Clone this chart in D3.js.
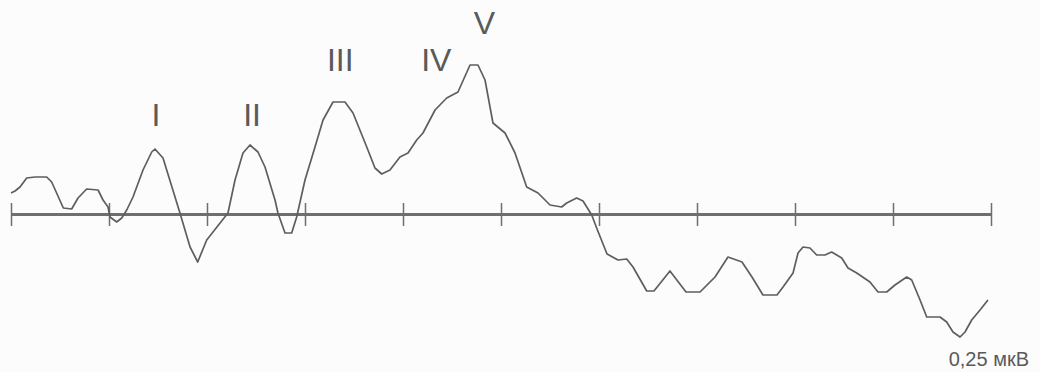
<!DOCTYPE html>
<html>
<head>
<meta charset="utf-8">
<script src="https://cdn.jsdelivr.net/npm/d3@7"></script>
<style>
  body { margin: 0; background: #fcfcfc; }
  svg { display: block; }
</style>
</head>
<body>
<div id="chart"></div>
<script>
// latency, ms
var timeMs = [
  0.000, 0.041, 0.092, 0.160, 0.245, 0.364, 0.415, 0.534, 0.619, 0.684,
  0.772, 0.888, 0.939, 0.990, 1.010, 1.079, 1.130, 1.181, 1.245, 1.347,
  1.436, 1.469, 1.551, 1.724, 1.827, 1.905, 1.997, 2.214, 2.286, 2.367,
  2.439, 2.520, 2.592, 2.694, 2.724, 2.796, 2.864, 2.915, 3.000, 3.102,
  3.184, 3.286, 3.408, 3.490, 3.630, 3.714, 3.783, 3.867, 3.969, 4.051,
  4.140, 4.204, 4.327, 4.446, 4.561, 4.684, 4.765, 4.837, 4.918, 5.041,
  5.143, 5.262, 5.378, 5.500, 5.619, 5.670, 5.772, 5.837, 5.926, 5.980,
  6.082, 6.194, 6.283, 6.347, 6.487, 6.561, 6.724, 6.888, 7.031, 7.184,
  7.316, 7.459, 7.561, 7.673, 7.816, 7.878, 7.980, 8.031, 8.082, 8.153,
  8.221, 8.306, 8.374, 8.477, 8.541, 8.630, 8.765, 8.847, 8.936, 9.020,
  9.140, 9.191, 9.276, 9.344, 9.480, 9.548, 9.612, 9.684, 9.735, 9.803,
  9.888, 9.969
];
// amplitude, arbitrary units (1 unit = 4 x 0.25 uV)
var amplitude = [
  0.21, 0.23, 0.27, 0.36, 0.37, 0.37, 0.32, 0.06, 0.05, 0.16,
  0.25, 0.24, 0.14, 0.07, -0.03, -0.08, -0.04, 0.04, 0.17, 0.44,
  0.62, 0.65, 0.56, 0.01, -0.33, -0.48, -0.26, 0.01, 0.34, 0.61,
  0.69, 0.62, 0.47, 0.14, 0.01, -0.19, -0.19, -0.03, 0.34, 0.67,
  0.94, 1.12, 1.12, 1.01, 0.67, 0.46, 0.40, 0.44, 0.57, 0.61,
  0.74, 0.81, 1.04, 1.16, 1.22, 1.49, 1.49, 1.34, 0.91, 0.81,
  0.61, 0.27, 0.21, 0.09, 0.07, 0.11, 0.16, 0.13, -0.01, -0.15,
  -0.40, -0.46, -0.45, -0.53, -0.77, -0.77, -0.57, -0.78, -0.78, -0.63,
  -0.43, -0.48, -0.63, -0.81, -0.81, -0.73, -0.59, -0.39, -0.33, -0.34,
  -0.41, -0.41, -0.38, -0.44, -0.54, -0.59, -0.68, -0.78, -0.78, -0.71,
  -0.63, -0.66, -0.86, -1.03, -1.03, -1.08, -1.18, -1.23, -1.18, -1.06,
  -0.96, -0.86
];

var peakLabels = ["I", "II", "III", "IV", "V"];
var peakTimes = [1.48, 2.46, 3.36, 4.34, 4.83];
var peakLabelLevel = [0.88, 0.88, 1.43, 1.43, 1.80];

var scaleLabel = "0,25 мкВ";

var width = 1040,
  height = 372;

var svg = d3.select("#chart").append("svg").attr("width", width).attr("height", height);

var x = d3.scaleLinear([0, 10], [11, 991]);
var y = d3.scaleLinear([-1.5, 2], [364, 14]);

var ink = "#5e5e5e";

// time axis through zero
var axis = svg
  .append("g")
  .attr("transform", "translate(0," + y(0) + ")")
  .call(d3.axisBottom(x).ticks(10).tickSizeOuter(0).tickSizeInner(0).tickFormat(""));
axis.select(".domain").attr("stroke", "#6f6f6f").attr("stroke-width", 3);
axis
  .selectAll(".tick line")
  .attr("y1", -11)
  .attr("y2", 12)
  .attr("stroke", "#6f6f6f")
  .attr("stroke-width", 1.5);

var points = timeMs.map(function (t, i) {
  return [t, amplitude[i]];
});

var line = d3
  .line()
  .x(function (d) { return x(d[0]); })
  .y(function (d) { return y(d[1]); });

svg
  .append("path")
  .datum(points)
  .attr("fill", "none")
  .attr("stroke", ink)
  .attr("stroke-width", 1.7)
  .attr("stroke-linejoin", "round")
  .attr("d", line);

svg
  .append("g")
  .attr("font-family", "Liberation Sans, Arial, sans-serif")
  .attr("font-size", 32)
  .attr("fill", "#5a5a5a")
  .attr("text-anchor", "middle")
  .selectAll("text")
  .data(peakLabels)
  .join("text")
  .attr("x", function (d, i) { return x(peakTimes[i]); })
  .attr("y", function (d, i) { return y(peakLabelLevel[i]); })
  .text(function (d) { return d; });

svg
  .append("text")
  .attr("x", 1029)
  .attr("y", 366)
  .attr("text-anchor", "end")
  .attr("font-family", "Liberation Sans, Arial, sans-serif")
  .attr("font-size", 20)
  .attr("fill", "#5a5a5a")
  .text(scaleLabel);
</script>
</body>
</html>
